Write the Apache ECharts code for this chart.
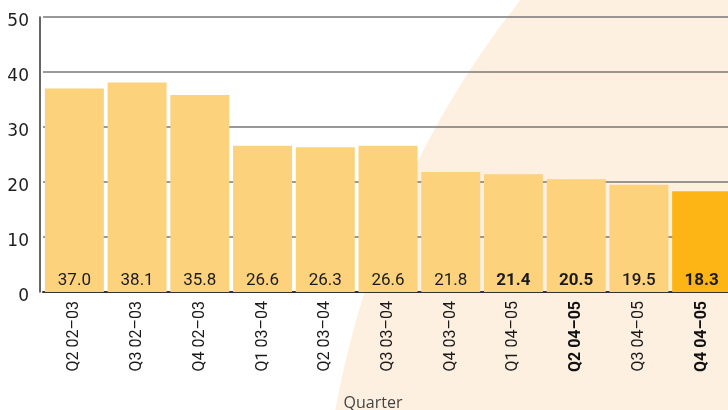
<!DOCTYPE html>
<html>
<head>
<meta charset="utf-8">
<script src="https://cdn.jsdelivr.net/npm/echarts@6/dist/echarts.min.js"></script>
<style>html,body{margin:0;padding:0;background:#fff;}#c{width:728px;height:410px;}</style>
</head>
<body>
<div id="c"></div>
<script>
const categories = ['Q2 02–03','Q3 02–03','Q4 02–03','Q1 03–04','Q2 03–04','Q3 03–04','Q4 03–04','Q1 04–05','Q2 04–05','Q3 04–05','Q4 04–05'];
const values = [37.0, 38.1, 35.8, 26.6, 26.3, 26.6, 21.8, 21.4, 20.5, 19.5, 18.3];
const axisTitle = 'Quarter';

const boldBarLabels = new Set([7, 8, 10]);
const mediumBarLabels = new Set([9]);
const boldCatLabels = new Set([8, 10]);
const highlightIdx = values.length - 1;

const chart = echarts.init(document.getElementById('c'), null, {renderer: 'canvas'});
chart.setOption({
  animation: false,
  backgroundColor: '#ffffff',
  graphic: [{
    type: 'circle', silent: true, z: -10,
    shape: {cx: 1246.6, cy: 574.3, r: 926},
    style: {fill: '#FEF0E0'}
  }],
  grid: {left: 43, right: -5, top: 17, bottom: 118, containLabel: false, outerBoundsMode: 'none'},
  xAxis: {
    type: 'category',
    data: categories,
    axisTick: {show: false},
    axisLine: {lineStyle: {color: '#333', width: 2}},
    axisLabel: {
      rotate: 90, margin: 9, interval: 0,
      fontFamily: 'Roboto', fontSize: 16, color: '#1a1a1a',
      formatter: (v, i) => boldCatLabels.has(i) ? '{b|' + v + '}' : v,
      rich: {b: {fontFamily: 'Roboto', fontSize: 16, fontWeight: 'bold', color: '#111'}}
    },
    name: axisTitle,
    nameLocation: 'middle',
    nameGap: 103,
    nameTextStyle: {fontFamily: 'Open Sans', fontSize: 16, color: '#444', padding: [0, 30, 0, 0]}
  },
  yAxis: {
    type: 'value', min: 0, max: 50, interval: 10, offset: 3,
    axisLine: {show: true, lineStyle: {color: '#333', width: 1.5}},
    axisTick: {show: false},
    axisLabel: {
      margin: 11,
      formatter: v => '{a|' + v + '}',
      rich: {a: {fontFamily: 'DejaVu Sans', fontSize: 17, color: '#1e1e1e', padding: [10, 0, 0, 0]}}
    },
    splitLine: {lineStyle: {color: '#777', width: 1.6}}
  },
  series: [{
    type: 'bar',
    barCategoryGap: '6%',
    data: values.map((v, i) => ({
      value: v,
      itemStyle: {color: i === highlightIdx ? '#FCB514' : '#FDD27C'},
      label: {fontWeight: boldBarLabels.has(i) ? 'bold' : (mediumBarLabels.has(i) ? 500 : 'normal')}
    })),
    label: {
      show: true, position: 'insideBottom', distance: 3,
      fontFamily: 'Roboto', fontSize: 17, color: '#1a1a1a',
      formatter: p => Number(p.value).toFixed(1)
    }
  }]
});
</script>
</body>
</html>
